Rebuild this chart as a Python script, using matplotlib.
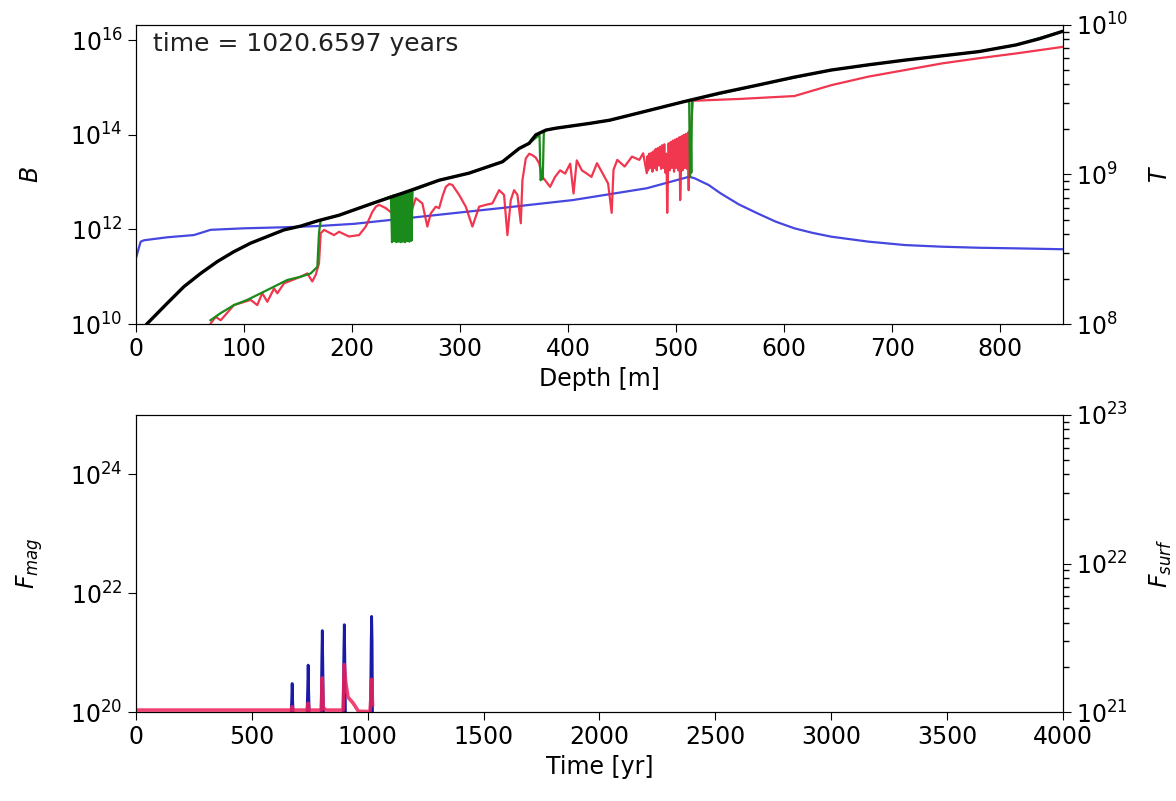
import numpy as np
import matplotlib
matplotlib.use("Agg")
import matplotlib.pyplot as plt
from matplotlib.ticker import LogLocator, NullLocator, NullFormatter

# ---- top panel: profiles vs depth (values as log10) ----
black_depth = [0, 10.5, 29, 44.4, 59.9, 75.3, 90.7, 106.2, 121.6, 137, 152.5, 167.9,
               188, 218.8, 249.7, 280.6, 308.3, 339.2, 354.6, 363.9, 370.1, 379.4,
               388.6, 419.4, 438.6, 472, 506.9, 540, 575.3, 609.4, 643.6, 677.8, 711.9,
               746.1, 780.3, 814.4, 836, 858]
black_logB = [9.75, 10.01, 10.44, 10.79, 11.07, 11.32, 11.53, 11.71, 11.85, 11.99, 12.07, 12.18,
              12.30, 12.55, 12.79, 13.04, 13.19, 13.43, 13.71, 13.82, 14.0, 14.10,
              14.14, 14.24, 14.31, 14.50, 14.70, 14.88, 15.05, 15.22, 15.37, 15.48, 15.58,
              15.67, 15.76, 15.90, 16.03, 16.19]

green_depth = [69, 78.4, 90.7, 103, 115.5, 127.8, 140, 152.5, 161.8, 167.9, 169.4, 171,
               188, 218.8, 236,
               237, 238, 239, 240, 241, 242, 243, 244, 245, 246, 247, 248, 249, 250,
               251, 252, 253, 254, 255,
               256, 280.6, 308.3, 339.2, 354.6, 363.9, 373.5, 374.5, 375.5, 376.5, 377.5,
               379.4, 388.6, 419.4, 438.6, 506.9, 512, 512.8, 513.4, 514, 514.6, 515.5,
               575.3, 643.6, 711.9, 780.3, 814.4, 858]
green_logB = [10.08, 10.23, 10.40, 10.51, 10.65, 10.79, 10.93, 11.00, 11.07, 11.21, 11.92, 12.20,
              12.30, 12.55, 12.70,
              11.73, 12.72, 11.75, 12.73, 11.73, 12.74, 11.74, 12.75, 11.73, 12.76, 11.74, 12.77,
              11.73, 12.78, 11.75, 12.79, 11.74, 12.80, 11.76,
              12.82, 13.04, 13.19, 13.43, 13.71, 13.82, 14.0, 13.04, 13.1, 13.06, 14.05,
              14.10, 14.14, 14.24, 14.31, 14.70, 14.72, 13.11, 14.1, 13.2, 14.73, 14.74,
              15.05, 15.37, 15.58, 15.76, 15.90, 16.19]

red_depth = [69.2, 73.8, 78.5, 90.7, 106.2, 112.3, 116.9, 121.6, 127.8, 130.9, 137.0, 152.5,
             158.6, 163.2, 166.4, 169.4, 171.0, 174.1, 183.3, 188.0, 197.2, 206.5, 212.7,
             218.8, 222, 225.0, 231.2, 237.3, 245, 254.4, 259.0, 265.1, 269.7, 272.9, 277.5,
             280.6, 284, 286.8, 290, 292.9, 299.1, 305.3, 311.4, 317.6, 323.8, 329.9, 336.1,
             340.7, 343.8, 346.9, 350.0, 353.1, 356.2, 357.7, 360.8, 364, 366.9, 370, 373.1,
             376.4, 378.7, 383.3, 387.9, 392.6, 397.2, 401.9, 405, 408, 412.7, 417.3,
             421.6, 426.7, 431.8, 437.0, 440.3, 442.0, 445.5, 452.3, 459.1, 465.9,
             469.4, 472.8,
             473.5, 474, 475, 476, 477, 478, 479, 480, 481, 482, 483, 484, 485, 486,
             487, 488, 489, 490, 491, 491.7, 492.5, 493, 494, 495, 496, 497, 498, 499,
             500, 501, 502, 503, 503.7, 504.5, 505, 506, 507, 508, 509, 510, 511, 511.6,
             512, 513, 513.5, 515.5, 560, 609.4, 643.6, 677.8, 711.9, 746.1, 780.3,
             814.4, 848.6, 858]
red_logB = [10.01, 10.15, 10.08, 10.40, 10.51, 10.40, 10.65, 10.47, 10.75, 10.65, 10.86, 11.00,
            11.07, 10.90, 11.04, 11.28, 11.92, 11.99, 11.88, 11.95, 11.85, 11.88, 12.06,
            12.37, 12.48, 12.52, 12.45, 12.34, 11.9, 12.34, 12.66, 12.55, 12.06, 12.34, 12.48,
            12.45, 12.72, 12.90, 12.96, 12.94, 12.73, 12.48, 12.06, 12.48, 12.52, 12.55, 12.83,
            12.73, 11.88, 12.62, 12.83, 12.73, 12.13, 13.04, 13.50, 13.60, 13.57, 13.52, 13.40,
            13.1, 13.04, 12.90, 13.11, 13.25, 13.18, 13.39, 12.76, 13.46, 13.25, 13.18,
            13.11, 13.40, 13.19, 12.97, 12.35, 13.26, 13.47, 13.33, 13.54, 13.47,
            13.61, 13.19,
            13.55, 13.25, 13.6, 13.3, 13.62, 13.22, 13.65, 13.3, 13.7, 13.25, 13.72, 13.35,
            13.75, 13.28, 13.78, 13.3, 13.8, 13.2, 13.6, 12.35, 13.3, 13.82, 13.25, 13.85,
            13.3, 13.88, 13.22, 13.9, 13.3, 13.92, 13.25, 13.95, 12.62, 13.3, 13.97, 13.25,
            14.0, 13.3, 14.02, 13.28, 14.05, 12.83, 14.08, 13.4, 14.1, 14.72, 14.76, 14.82,
            15.05, 15.23, 15.37, 15.51, 15.62, 15.72, 15.83, 15.86]

blue_depth = [0, 4.3, 7.4, 29, 53.7, 69.2, 99.8, 137, 167.9, 202, 336.1, 404.4, 472.8,
              512, 517, 530, 541.1, 558, 575.3, 592, 609.4, 626, 643.6, 677.8, 711.9, 746.1,
              780.3, 814.4, 858]
blue_logT = [8.44, 8.55, 8.56, 8.58, 8.595, 8.63, 8.64, 8.647, 8.655, 8.67, 8.774, 8.829,
             8.908, 8.985, 8.975, 8.93, 8.874, 8.80, 8.740, 8.685, 8.640, 8.61, 8.584, 8.551,
             8.528, 8.517, 8.510, 8.506, 8.50]

# ---- bottom panel: fluxes vs time ----
fmag_time = [0, 669, 672, 674, 676, 679, 738, 741, 743, 745, 748, 799, 802, 804, 806, 809,
             894, 897, 899, 901, 904, 1012, 1015, 1017, 1019, 1020.66]
fmag_log = [19.95, 19.95, 20.2, 20.48, 20.2, 19.95, 19.95, 20.4, 20.79, 20.4, 19.95, 19.95,
            20.9, 21.37, 20.9, 19.95, 19.95, 21.0, 21.47, 21.0, 19.95, 19.95, 21.2, 21.61,
            21.2, 19.95]

fsurf_time = [0, 670, 674, 678, 739, 743, 747, 800, 804, 808, 815, 820, 894, 899, 905,
              915, 937, 960, 1010, 1014, 1017, 1020.66]
fsurf_log = [21.013, 21.013, 21.036, 21.013, 21.013, 21.06, 21.013, 21.013, 21.23, 21.03,
             21.02, 21.013, 21.013, 21.32, 21.2, 21.10, 21.06, 21.005, 21.003, 21.1, 21.22,
             21.05]

sim_time = 1020.6597

fig = plt.figure(figsize=(11.76, 8.01), dpi=100)
fs = 17

def minor_log(axis):
    axis.yaxis.set_minor_locator(LogLocator(base=10, subs=np.arange(2, 10), numticks=20))
    axis.yaxis.set_minor_formatter(NullFormatter())
    axis.tick_params(which="minor", length=4, width=1)

# top
ax = fig.add_axes([0.1156, 0.5955, 0.7883, 0.3733])
axT = ax.twinx()
ax.set_zorder(axT.get_zorder() + 1)
ax.patch.set_visible(False)

axT.plot(blue_depth, 10 ** np.array(blue_logT), color="#4646e0", lw=1.6)
ax.plot(red_depth, 10 ** np.array(red_logB), color="#f0203c", lw=1.6, alpha=0.9)
ax.plot(green_depth, 10 ** np.array(green_logB), color="#1a8a1a", lw=1.6)
ax.plot(black_depth, 10 ** np.array(black_logB), color="black", lw=2.4)

ax.set_yscale("log")
axT.set_yscale("log")
ax.set_xlim(0, 858)
ax.set_ylim(1e10, 2.1e16)
axT.set_ylim(1e8, 1e10)
ax.set_yticks([1e10, 1e12, 1e14, 1e16])
ax.yaxis.set_minor_locator(NullLocator())
minor_log(axT)
ax.set_xlabel("Depth [m]", fontsize=fs)
ax.set_ylabel("$B$", fontsize=fs, labelpad=20)
axT.set_ylabel("$T$", fontsize=fs, labelpad=14)
ax.tick_params(labelsize=fs, length=6)
axT.tick_params(which="major", labelsize=fs, length=6)
ax.text(0.018, 0.975, "time = %.4f years" % sim_time, transform=ax.transAxes,
        fontsize=18, va="top", ha="left", color="#222222")

# bottom
ax2 = fig.add_axes([0.1156, 0.1111, 0.7883, 0.3708])
ax2R = ax2.twinx()
ax2.plot(fmag_time, 10 ** np.array(fmag_log), color="#1a1aa8", lw=2.0)
ax2R.plot(fsurf_time, 10 ** np.array(fsurf_log), color="#f0205a", lw=2.6, alpha=0.85)
ax2.set_yscale("log")
ax2R.set_yscale("log")
ax2.set_xlim(0, 4000)
ax2.set_ylim(1e20, 1e25)
ax2R.set_ylim(1e21, 1e23)
ax2.set_yticks([1e20, 1e22, 1e24])
ax2.yaxis.set_minor_locator(NullLocator())
minor_log(ax2R)
ax2.set_xlabel("Time [yr]", fontsize=fs)
ax2.set_ylabel("$F_{mag}$", fontsize=fs, labelpad=18)
ax2R.set_ylabel("$F_{surf}$", fontsize=fs, labelpad=14)
ax2.tick_params(labelsize=fs, length=6)
ax2R.tick_params(which="major", labelsize=fs, length=6)

fig.savefig("out.png", dpi=100)
